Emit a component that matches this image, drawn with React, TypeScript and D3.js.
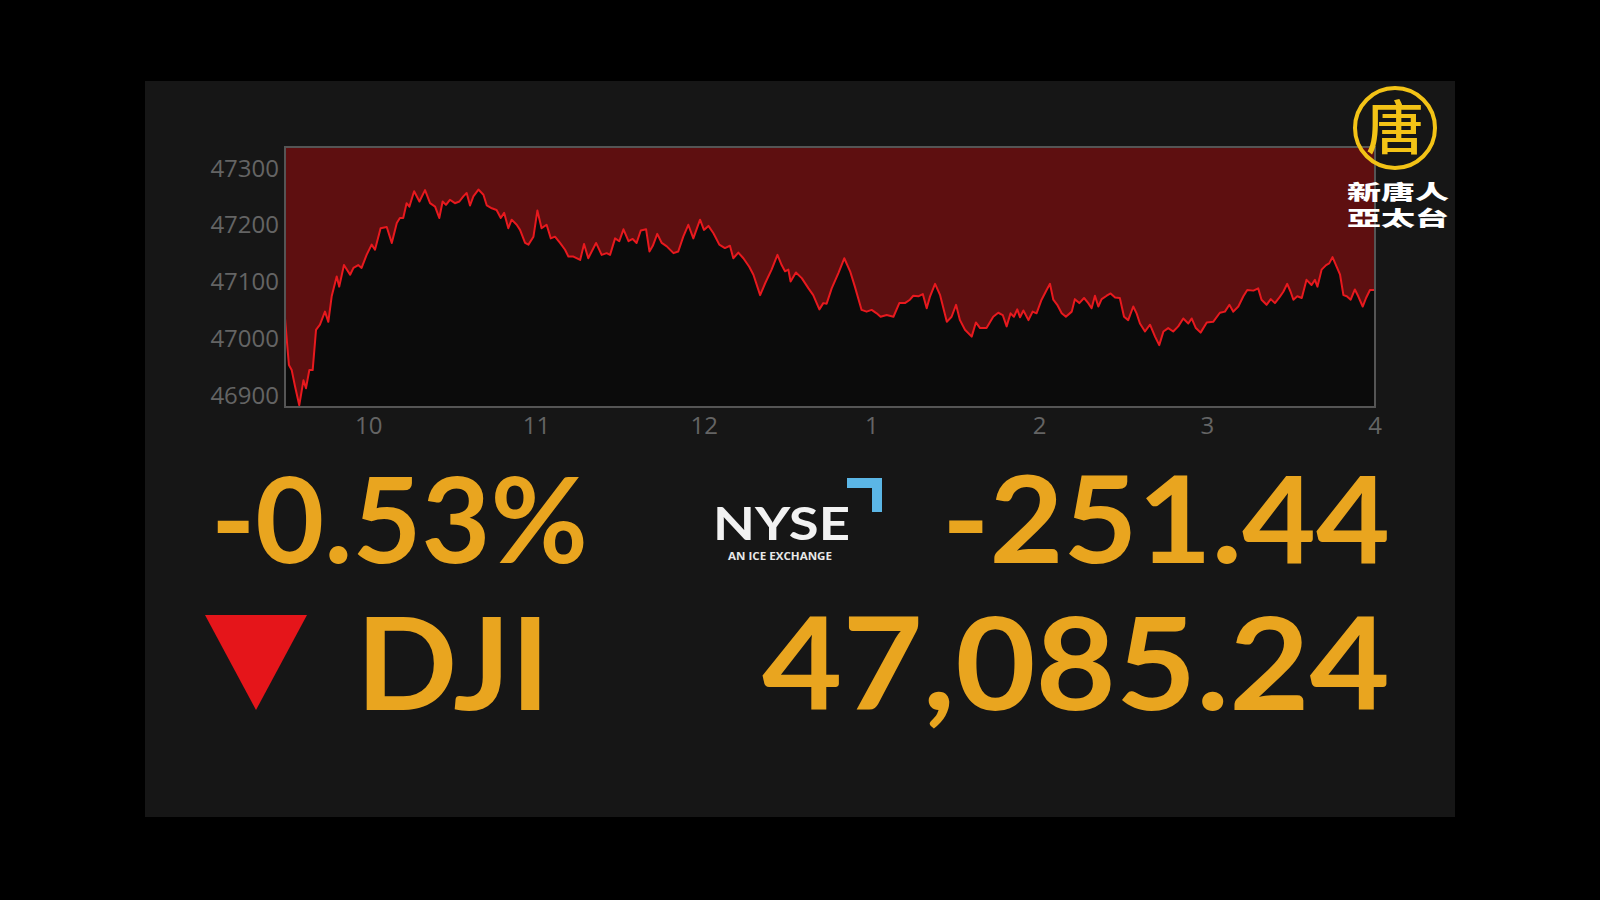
import React from "react";
import * as d3 from "d3";

// Minutes after 9:30 open
const minutes: number[] = [
  0, 1.4, 2.4, 3.6, 5.1, 6.6, 7.5, 8.7, 9.9, 11.1, 12.5, 14.3, 15.5, 16.7, 18.5, 19.4, 21.1, 23.3, 24.5, 26.2,
  27.4, 29.2, 31.0, 32.2, 34.2, 36.4, 38.2, 40.0, 41.1, 42.3, 43.5, 44.5, 46.2, 48.1, 50.1, 51.9, 53.7, 55.2,
  56.4, 57.6, 59.0, 60.8, 62.4, 63.8, 65.0, 66.2, 67.4, 69.2, 71.0, 72.2, 74.0, 75.7, 77.2, 78.4, 79.9, 81.1,
  82.9, 84.1, 85.9, 87.1, 88.9, 90.3, 91.8, 93.6, 95.1, 96.6, 98.4, 100.2, 101.4, 103.2, 105.6, 107.0, 108.5,
  111.3, 113.3, 115.1, 116.3, 118.1, 119.6, 121.1, 122.9, 124.4, 125.8, 127.3, 129.2, 130.4, 131.6, 133.2,
  134.8, 136.6, 139.0, 140.7, 142.5, 144.3, 146.1, 148.5, 149.9, 151.5, 153.3, 155.4, 157.4, 159.2, 160.4,
  162.2, 164.0, 166.1, 167.6, 170.0, 171.8, 174.1, 176.2, 177.7, 178.9, 180.1, 180.9, 182.8, 184.9, 187.3,
  189.0, 191.2, 192.6, 193.8, 195.6, 198.0, 200.1, 202.2, 203.9, 206.3, 208.1, 209.9, 211.7, 213.1, 215.3,
  217.7, 219.8, 221.8, 223.6, 224.8, 226.6, 228.2, 229.6, 230.8, 232.6, 234.4, 236.8, 238.5, 240.1, 241.5,
  243.3, 245.7, 247.2, 248.7, 251.0, 253.4, 255.2, 256.8, 258.2, 259.6, 260.8, 262.0, 263.0, 264.2, 266.0,
  267.5, 268.9, 270.7, 272.5, 273.7, 274.9, 276.3, 277.9, 279.4, 281.5, 282.6, 284.2, 285.9, 287.4, 288.6,
  289.8, 291.0, 292.2, 294.0, 295.4, 297.0, 298.7, 300.2, 301.7, 303.5, 304.7, 305.9, 307.7, 309.5, 311.3,
  312.8, 314.3, 316.0, 317.8, 319.6, 321.4, 323.2, 324.4, 325.9, 327.6, 329.8, 332.1, 334.5, 336.3, 337.9,
  339.3, 341.1, 342.9, 344.3, 346.5, 348.2, 349.4, 351.2, 352.7, 354.2, 355.8, 357.2, 358.6, 359.8, 360.8,
  362.2, 363.8, 365.5, 367.3, 368.5, 369.4, 370.9, 372.5, 373.6, 374.8, 376.3, 377.5, 378.7, 379.9, 381.3,
  382.8, 384.0, 385.6, 386.8, 388.2, 390.0,
];

const values: number[] = [
  47035, 46953, 46944, 46915, 46882, 46926, 46912, 46944, 46944, 47015, 47024, 47047, 47029, 47074, 47109, 47091,
  47129, 47112, 47124, 47129, 47124, 47147, 47165, 47156, 47194, 47196, 47168, 47203, 47212, 47212, 47238, 47232,
  47259, 47241, 47261, 47238, 47232, 47212, 47241, 47235, 47244, 47238, 47241, 47250, 47256, 47234, 47250, 47262,
  47253, 47234, 47229, 47226, 47212, 47221, 47194, 47209, 47200, 47191, 47168, 47165, 47179, 47225, 47194, 47200,
  47176, 47179, 47168, 47156, 47144, 47144, 47138, 47166, 47141, 47168, 47147, 47150, 47147, 47176, 47171, 47192,
  47171, 47175, 47168, 47190, 47192, 47153, 47163, 47184, 47168, 47162, 47150, 47153, 47179, 47200, 47176, 47209,
  47191, 47198, 47185, 47165, 47159, 47163, 47141, 47151, 47141, 47126, 47112, 47076, 47097, 47121, 47147, 47129,
  47118, 47121, 47100, 47116, 47106, 47088, 47076, 47051, 47062, 47061, 47088, 47115, 47141, 47118, 47091, 47050,
  47047, 47050, 47044, 47038, 47041, 47038, 47062, 47062, 47068, 47075, 47074, 47078, 47053, 47074, 47096, 47076,
  47029, 47038, 47059, 47032, 47015, 47003, 47028, 47018, 47018, 47038, 47045, 47041, 47021, 47044, 47038, 47051,
  47037, 47049, 47032, 47047, 47044, 47068, 47085, 47096, 47068, 47059, 47044, 47038, 47047, 47069, 47062, 47071,
  47062, 47053, 47075, 47056, 47069, 47075, 47079, 47072, 47071, 47038, 47032, 47056, 47044, 47026, 47012, 47024,
  47003, 46988, 47012, 47018, 47012, 47021, 47035, 47026, 47035, 47018, 47010, 47028, 47029, 47045, 47047, 47059,
  47047, 47056, 47074, 47085, 47084, 47088, 47068, 47059, 47069, 47062, 47072, 47082, 47096, 47082, 47068, 47074,
  47071, 47103, 47094, 47103, 47091, 47121, 47129, 47132, 47143, 47126, 47112, 47076, 47074, 47068, 47086, 47074,
  47056, 47071, 47085, 47085,
];

const yTicks: number[] = [46900, 47000, 47100, 47200, 47300];
const xTickMinutes: number[] = [30, 90, 150, 210, 270, 330, 390];
const xTickLabels: string[] = ["10", "11", "12", "1", "2", "3", "4"];

const pctChange = "-0.53%";
const ptsChange = "-251.44";
const indexName = "DJI";
const lastValue = "47,085.24";
const channelLines: string[] = ["新唐人", "亞太台"];

export default function App() {
  const W = 1600, H = 900;
  const plot = { left: 285, right: 1375, top: 147, bottom: 407 };
  const x = d3.scaleLinear().domain([0, 390]).range([plot.left, plot.right]);
  const y = d3.scaleLinear().domain([46879, 47337]).range([plot.bottom, plot.top]);
  const data = minutes.map((m, i) => ({ m, v: values[i] }));
  const line = d3.line<{ m: number; v: number }>().x(d => x(d.m)).y(d => y(d.v));
  const area = d3
    .area<{ m: number; v: number }>()
    .x(d => x(d.m))
    .y0(plot.top)
    .y1(d => y(d.v));

  const orange = "#e9a51f";
  const axisFont = "'Open Sans', 'DejaVu Sans', sans-serif";
  const bigFont = "Lato, 'Open Sans', sans-serif";
  const cjk = "'Noto Sans CJK TC', 'Noto Sans CJK SC', sans-serif";

  return (
    <div style={{ position: "fixed", left: 0, top: 0, width: W, height: H }}>
      <svg width={W} height={H} style={{ display: "block" }}>
        <rect x={0} y={0} width={W} height={H} fill="#000" />
        <rect x={145} y={81} width={1310} height={736} fill="#161616" />
        <rect
          x={plot.left}
          y={plot.top}
          width={plot.right - plot.left}
          height={plot.bottom - plot.top}
          fill="#0b0b0b"
        />
        <path d={area(data) || ""} fill="#5e0f10" />
        <path d={line(data) || ""} fill="none" stroke="#e8191e" strokeWidth={2} strokeLinejoin="round" />
        <rect
          x={plot.left}
          y={plot.top}
          width={plot.right - plot.left}
          height={plot.bottom - plot.top}
          fill="none"
          stroke="#555"
          strokeWidth={2}
        />
        {yTicks.map(t => (
          <text
            key={t}
            x={plot.left - 6}
            y={y(t)}
            dy="0.36em"
            textAnchor="end"
            fontFamily={axisFont}
            fontSize={24}
            fill="#646464"
          >
            {t}
          </text>
        ))}
        {xTickMinutes.map((m, i) => (
          <text
            key={m}
            x={x(m)}
            y={434}
            textAnchor="middle"
            fontFamily={axisFont}
            fontSize={24}
            fill="#646464"
          >
            {xTickLabels[i]}
          </text>
        ))}

        {/* Big figures */}
        <text x={211} y={563} fontFamily={bigFont} fontWeight={700} fontSize={118} fill={orange}
          textLength={377} lengthAdjust="spacingAndGlyphs">{pctChange}</text>
        <text x={942} y={563} fontFamily={bigFont} fontWeight={700} fontSize={120} fill={orange}
          textLength={448} lengthAdjust="spacingAndGlyphs">{ptsChange}</text>
        <polygon points="205,615 307,615 256,710" fill="#e5151a" />
        <text x={356} y={710} fontFamily={bigFont} fontWeight={700} fontSize={128} fill={orange}
          textLength={194} lengthAdjust="spacingAndGlyphs">{indexName}</text>
        <text x={762} y={710} fontFamily={bigFont} fontWeight={700} fontSize={128} fill={orange}
          textLength={628} lengthAdjust="spacingAndGlyphs">{lastValue}</text>

        {/* NYSE logo */}
        <text x={713} y={540} fontFamily={bigFont} fontWeight={700} fontSize={46} fill="#f2f2f2"
          textLength={137} lengthAdjust="spacingAndGlyphs">NYSE</text>
        <text x={728} y={560} fontFamily={axisFont} fontWeight={700} fontSize={11} fill="#e8e8e8"
          textLength={104} lengthAdjust="spacingAndGlyphs">AN ICE EXCHANGE</text>
        <path d="M847,478 H882 V512 H872 V488 H847 Z" fill="#5bb6e6" />

        {/* Channel logo */}
        <circle cx={1395} cy={128} r={40} fill="none" stroke="#f3c316" strokeWidth={4} />
        <text x={1395} y={149} textAnchor="middle" fontFamily={cjk} fontWeight={500} fontSize={58} fill="#f3c316">唐</text>
        <text x={1347} y={200} fontFamily={cjk} fontWeight={900} fontSize={20} fill="#fff"
          textLength={102} lengthAdjust="spacingAndGlyphs">{channelLines[0]}</text>
        <text x={1347} y={226} fontFamily={cjk} fontWeight={900} fontSize={20} fill="#fff"
          textLength={102} lengthAdjust="spacingAndGlyphs">{channelLines[1]}</text>
      </svg>
    </div>
  );
}
